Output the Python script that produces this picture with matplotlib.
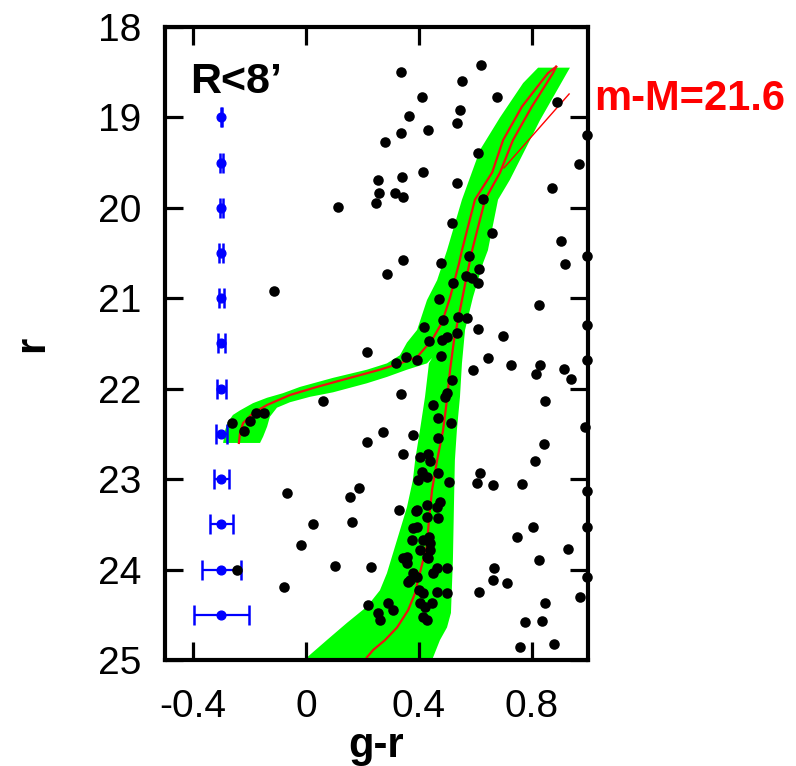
import matplotlib
matplotlib.use("Agg")
import matplotlib.pyplot as plt

plt.rcParams["font.family"] = ["Liberation Sans", "DejaVu Sans"]

# Isochrone: red giant branch (colour g-r, magnitude r)
rgb_color = [0.887, 0.876, 0.801, 0.734, 0.688, 0.635, 0.589, 0.567, 0.546, 0.525,
             0.511, 0.500, 0.486, 0.465, 0.447, 0.436, 0.429, 0.411, 0.397, 0.387,
             0.362, 0.323, 0.280, 0.238, 0.216, 0.195]
rgb_mag = [18.44, 18.51, 18.88, 19.25, 19.61, 19.91, 20.47, 20.80, 21.13, 21.46,
           21.79, 22.12, 22.46, 22.79, 23.12, 23.45, 23.73, 23.95, 24.12, 24.26,
           24.45, 24.64, 24.78, 24.89, 24.97, 25.08]

# Isochrone: asymptotic giant branch running into the horizontal branch
agb_color = [0.887, 0.858, 0.766, 0.699, 0.660, 0.599, 0.553, 0.543, 0.511, 0.482,
             0.447, 0.394, 0.333, 0.262, 0.156, 0.039, -0.057, -0.138, -0.188,
             -0.223, -0.234, -0.238]
agb_mag = [18.44, 18.51, 18.88, 19.25, 19.61, 19.91, 20.47, 20.61, 20.99, 21.27,
           21.46, 21.65, 21.72, 21.79, 21.88, 21.98, 22.07, 22.18, 22.27,
           22.38, 22.49, 22.60]

# Outline of the isochrone selection region
band_color = [0.823, 0.770, 0.688, 0.617, 0.553, 0.500, 0.465, 0.429, 0.394, 0.358,
              0.333, 0.287, 0.216, 0.096, -0.021, -0.082, -0.138, -0.188, -0.234,
              -0.259, -0.277, -0.287, -0.294, -0.163, -0.152, -0.138, -0.128, -0.103,
              -0.057, 0.014, 0.096, 0.216, 0.287, 0.358, 0.429, 0.447, 0.436, 0.422,
              0.404, 0.387, 0.379, 0.358, 0.323, 0.287, 0.262, 0.216, 0.145, 0.074,
              0.004, -0.020, 0.420, 0.447, 0.475, 0.500, 0.514, 0.521, 0.525, 0.528,
              0.535, 0.546, 0.553, 0.564, 0.592, 0.628, 0.645, 0.681, 0.723, 0.830,
              0.936]
band_mag = [18.45, 18.62, 19.00, 19.36, 19.91, 20.47, 20.80, 21.02, 21.35, 21.49,
            21.63, 21.72, 21.79, 21.88, 21.98, 22.05, 22.10, 22.16, 22.24,
            22.29, 22.37, 22.46, 22.60, 22.60, 22.53, 22.42, 22.31, 22.21,
            22.15, 22.09, 22.04, 21.94, 21.87, 21.79, 21.72, 21.66, 21.72, 22.09,
            22.46, 22.79, 23.01, 23.31, 23.67, 24.04, 24.23, 24.41, 24.59, 24.78,
            24.97, 25.06, 25.06, 25.00, 24.78, 24.64, 24.48, 23.89, 23.23, 22.79,
            22.46, 22.09, 21.72, 21.35, 20.99, 20.61, 20.47, 19.91, 19.69, 19.03,
            18.45]

# Stars inside R<8'
star_color = [0.337, 0.411, 0.365, 0.433, 0.337, 0.280, 0.415, 0.340, 0.255, 0.259,
              0.248, 0.316, 0.344, 0.113, 0.621, 0.553, 0.677, 0.546, 0.535, 0.890,
              0.996, 0.610, 0.968, 0.535, 0.872, 0.628, 0.518, 0.660, 0.904, 0.344,
              0.287, -0.113, 0.479, 0.918, 0.995, 0.578, 0.613, 0.521, 0.567, 0.589,
              0.610, 0.472, 0.826, 0.996, 0.486, 0.539, 0.571, 0.418, 0.610, 0.436,
              0.482, 0.500, 0.535, 0.699, 0.479, 0.319, 0.355, 0.394, 0.216, 0.645,
              0.727, 0.592, 0.830, 0.816, 0.915, 0.940, 0.996, 0.337, 0.518, 0.500,
              0.493, 0.848, 0.450, 0.468, 0.514, 0.273, 0.379, 0.468, 0.989, 0.844,
              0.344, 0.404, 0.433, 0.812, 0.060, -0.262, -0.199, -0.177, -0.149, -0.220,
              0.216, 0.440, -0.067, 0.188, 0.156, 0.330, 0.025, 0.163, -0.018, 0.103,
              0.230, -0.245, -0.078, 0.220, 0.291, 0.309, 0.255, 0.262, 0.394, 0.397,
              0.411, 0.429, 0.376, 0.415, 0.440, 0.394, 0.358, 0.404, 0.429, 0.369,
              0.379, 0.415, 0.422, 0.447, 0.415, 0.429, 0.450, 0.465, 0.468, 0.507,
              0.617, 0.606, 0.663, 0.766, 0.996, 0.390, 0.429, 0.475, 0.429, 0.468,
              0.379, 0.436, 0.440, 0.433, 0.344, 0.358, 0.394, 0.465, 0.500, 0.362,
              0.401, 0.465, 0.500, 0.404, 0.805, 0.748, 0.929, 0.996, 0.826, 0.667,
              0.663, 0.713, 0.613, 0.996, 0.972, 0.848, 0.777, 0.837, 0.759, 0.879]
star_mag = [18.50, 18.77, 18.99, 19.14, 19.17, 19.27, 19.60, 19.66, 19.69, 19.84,
            19.95, 19.84, 19.88, 19.99, 18.42, 18.60, 18.77, 18.92, 19.06, 18.83,
            19.19, 19.39, 19.52, 19.73, 19.78, 19.90, 20.17, 20.28, 20.37, 20.58,
            20.73, 20.92, 20.61, 20.62, 20.53, 20.53, 20.68, 20.83, 20.75, 20.78,
            20.83, 21.01, 21.07, 21.30, 21.24, 21.21, 21.22, 21.32, 21.34, 21.47,
            21.46, 21.43, 21.38, 21.42, 21.64, 21.72, 21.65, 21.68, 21.59, 21.66,
            21.74, 21.79, 21.74, 21.84, 21.78, 21.89, 21.68, 22.06, 21.90, 22.05,
            22.09, 22.14, 22.18, 22.32, 22.38, 22.48, 22.51, 22.55, 22.42, 22.61,
            22.72, 22.76, 22.72, 22.80, 22.14, 22.38, 22.36, 22.27, 22.27, 22.47,
            22.59, 22.80, 23.15, 23.10, 23.20, 23.34, 23.50, 23.47, 23.73, 23.96,
            23.97, 24.00, 24.19, 24.39, 24.37, 24.45, 24.48, 24.56, 23.34, 23.01,
            22.92, 22.98, 23.67, 23.67, 23.71, 23.53, 23.86, 23.78, 23.86, 24.12,
            24.04, 24.26, 24.41, 24.37, 24.52, 24.56, 24.04, 23.31, 22.93, 23.03,
            22.93, 23.04, 23.07, 23.05, 23.13, 23.35, 23.29, 23.25, 23.42, 23.43,
            23.54, 23.64, 23.78, 23.87, 23.87, 23.93, 24.08, 23.98, 23.98, 24.14,
            24.23, 24.25, 24.26, 24.37, 23.53, 23.64, 23.77, 23.53, 23.89, 23.98,
            24.12, 24.15, 24.25, 24.08, 24.30, 24.37, 24.58, 24.57, 24.86, 24.82]

# Photometric colour errors per magnitude bin
err_mag = [19.0, 19.5, 20.0, 20.5, 21.0, 21.5, 22.0, 22.5, 23.0, 23.5, 24.0, 24.5]
err_color = [0.003, 0.004, 0.005, 0.007, 0.009, 0.013, 0.015, 0.020, 0.027, 0.041,
             0.069, 0.098]
err_x = [-0.3] * len(err_mag)

x_ticks = [-0.4, 0.0, 0.4, 0.8]
x_tick_labels = ["-0.4", "0", "0.4", "0.8"]
y_ticks = [18, 19, 20, 21, 22, 23, 24, 25]
y_tick_labels = ["18", "19", "20", "21", "22", "23", "24", "25"]

fig = plt.figure(figsize=(7.96, 7.66), dpi=100)
ax = fig.add_axes([0.2073, 0.1384, 0.5314, 0.8264])

ax.fill(band_color, band_mag, color="#00ff00", linewidth=0, zorder=1)
ax.plot(rgb_color, rgb_mag, color="#ee1111", lw=1.6, zorder=2)
ax.plot(agb_color, agb_mag, color="#ee1111", lw=1.6, zorder=2)

ax.errorbar(err_x, err_mag, xerr=err_color, fmt="o", color="#0000ff",
            mfc="#0000ff", mec="#0000ff", ms=6.3, elinewidth=1.6,
            capsize=7.5, capthick=1.8, zorder=3)

ax.plot(star_color, star_mag, "o", color="black", ms=7.6, mew=0,
        zorder=4, clip_on=False)

ax.plot([0.933, 0.702], [18.741, 19.559], color="red", lw=1.0, zorder=3)
ax.text(1.022, 18.918, "m-M=21.6", color="red", fontsize=30, fontweight="bold",
        ha="left", va="baseline", clip_on=False)
ax.text(0.060, 0.8957, "R<8\u2019", transform=ax.transAxes, fontsize=31,
        fontweight="bold", ha="left", va="baseline")

ax.set_xlim(-0.5, 1.0)
ax.set_ylim(25, 18)
ax.set_xticks(x_ticks)
ax.set_xticklabels(x_tick_labels)
ax.set_yticks(y_ticks)
ax.set_yticklabels(y_tick_labels)
ax.tick_params(direction="in", length=13, width=2.3, top=True, right=True,
               labelsize=28)
ax.tick_params(axis="x", pad=21)
ax.tick_params(axis="y", pad=17)
for s in ax.spines.values():
    s.set_linewidth(3.0)

ax.set_xlabel("g-r", fontsize=30, fontweight="bold")
ax.set_ylabel("r", fontsize=30, fontweight="bold")
ax.xaxis.set_label_coords(0.5, -0.104)
ax.yaxis.set_label_coords(-0.267, 0.5)

fig.savefig("out.png", dpi=100)
